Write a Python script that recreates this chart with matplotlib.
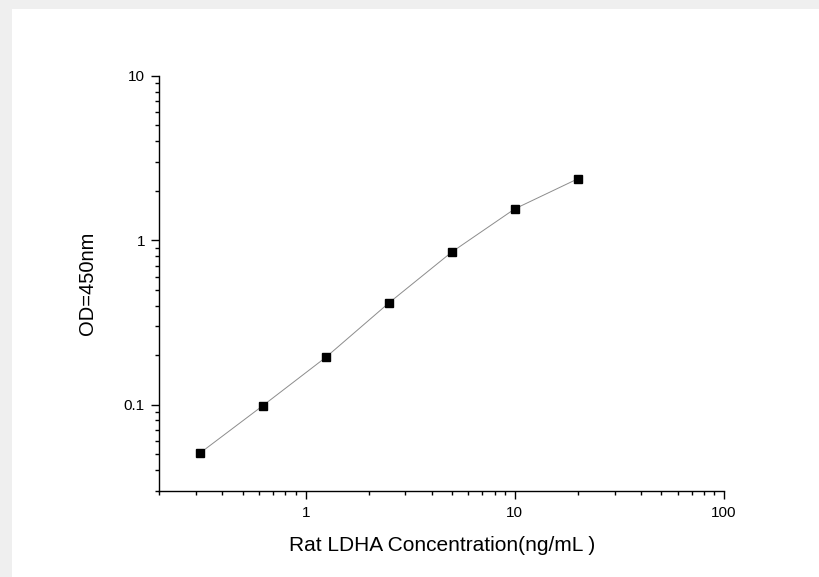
import matplotlib
matplotlib.use("Agg")
import matplotlib.pyplot as plt
from matplotlib.patches import Rectangle
from matplotlib.ticker import LogLocator, NullFormatter, FixedLocator, FixedFormatter

plt.rcParams['font.family'] = ['Liberation Sans', 'DejaVu Sans']

concentration = [0.3125, 0.625, 1.25, 2.5, 5, 10, 20]
od450 = [0.0507, 0.0986, 0.194, 0.415, 0.847, 1.55, 2.36]
x_ticks = [1, 10, 100]
x_tick_labels = ["1", "10", "100"]
y_ticks = [0.1, 1, 10]
y_tick_labels = ["0.1", "1", "10"]

fig = plt.figure(figsize=(8.2, 5.77), dpi=100)
fig.patch.set_facecolor('#efefef')
fig.patches.append(Rectangle((12/820, 0), 1, (577-9)/577, transform=fig.transFigure,
                             facecolor='white', edgecolor='none', zorder=-10))

ax = fig.add_axes([159.5/820, (577-490.5)/577, (724-159.5)/820, (490.5-75.7)/577])
ax.set_zorder(1)
ax.set_facecolor('none')
ax.plot(concentration, od450, color='#8c8c8c', linewidth=0.7, zorder=2)
ax.plot(concentration, od450, linestyle='none', marker='s', markersize=5.8,
        color='black', zorder=3)
ax.set_xscale('log')
ax.set_yscale('log')
ax.set_xlim(0.2, 100)
ax.set_ylim(0.03, 10)

ax.xaxis.set_major_locator(FixedLocator(x_ticks))
ax.xaxis.set_major_formatter(FixedFormatter(x_tick_labels))
ax.yaxis.set_major_locator(FixedLocator(y_ticks))
ax.yaxis.set_major_formatter(FixedFormatter(y_tick_labels))
ax.xaxis.set_minor_locator(LogLocator(base=10, subs=range(2, 10), numticks=20))
ax.yaxis.set_minor_locator(LogLocator(base=10, subs=range(2, 10), numticks=20))
ax.xaxis.set_minor_formatter(NullFormatter())
ax.yaxis.set_minor_formatter(NullFormatter())

for s in ['top', 'right']:
    ax.spines[s].set_visible(False)
for s in ['left', 'bottom']:
    ax.spines[s].set_linewidth(1.0)
    ax.spines[s].set_color('black')

ax.tick_params(which='major', direction='out', length=5.5, width=1, labelsize=11)
ax.tick_params(which='minor', direction='out', length=2.8, width=1)
ax.tick_params(axis='x', which='major', pad=6)
ax.tick_params(axis='y', which='major', pad=5)

ax.set_xlabel("Rat LDHA Concentration(ng/mL )", fontsize=15, labelpad=11.5)
ax.set_ylabel("OD=450nm", fontsize=14.5, labelpad=19.5)

fig.savefig("out.png", dpi=100, facecolor=fig.get_facecolor())
